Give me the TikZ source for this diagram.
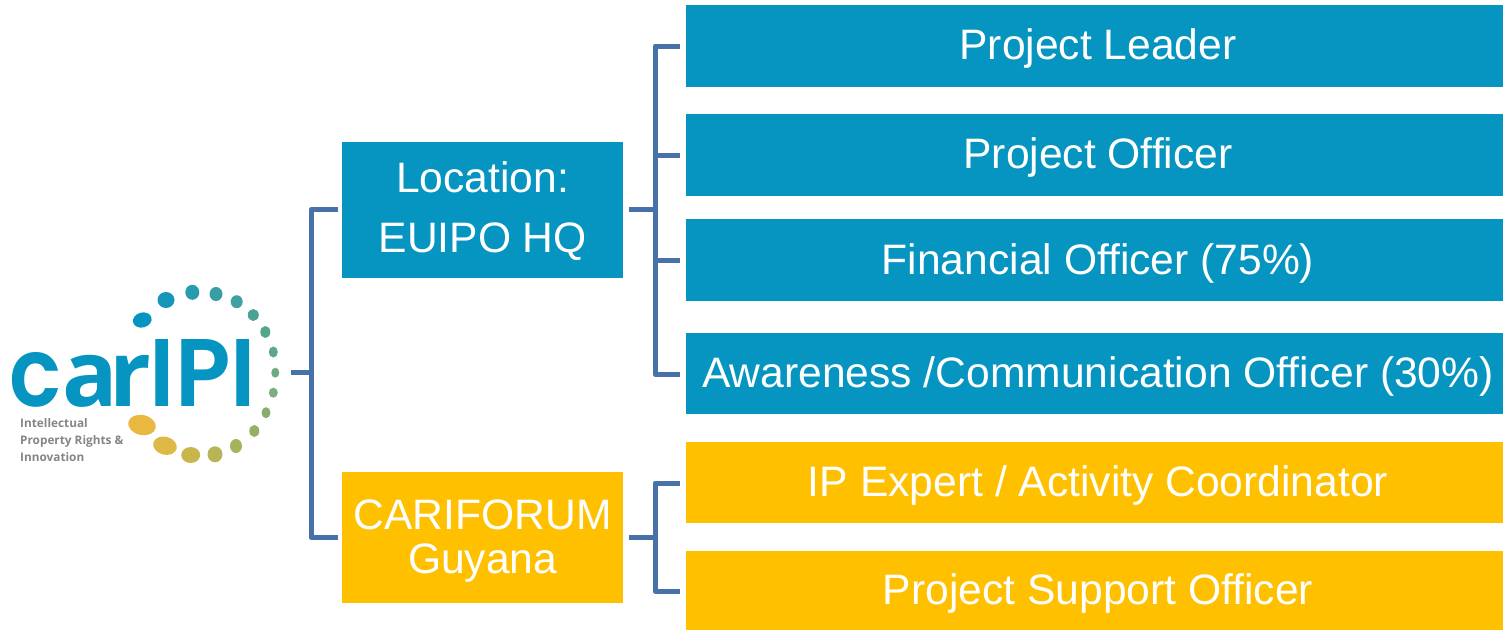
\documentclass[tikz,border=0pt]{standalone}
\usepackage{fontspec}
\setmainfont{Liberation Sans}
\newfontfamily\logofont{Poppins}[BoldFont={Poppins SemiBold}]
\newfontfamily\logosmallfont{Open Sans}
\definecolor{boxblue}{HTML}{0595C0}
\definecolor{boxgold}{HTML}{FFC000}
\definecolor{linkblue}{HTML}{4772A9}
\definecolor{logogray}{HTML}{858585}
\newcommand{\logodot}[6]{\definecolor{dotcol}{HTML}{#6}\fill[fill=dotcol,draw=none] (#1,#2) circle[x radius=#3,y radius=#4,rotate=#5];}
\tikzset{
  x=1pt,y=-1pt,
  rolebox/.style={rectangle,inner sep=0pt,outer sep=0pt,minimum width=817pt,minimum height=#1,text=white,anchor=center,
    font=\fontsize{42.6}{43}\selectfont,text height=31pt,text depth=4pt},
  sitebox/.style={rectangle,inner sep=0pt,outer sep=0pt,minimum width=281pt,minimum height=#1,text=white,align=center,anchor=center},
  link/.style={draw=linkblue,line width=5pt,line join=round,line cap=butt},
  logotext/.style={inner sep=0pt,anchor=base west,transform shape,font=\logofont\bfseries\fontsize{96}{96}\selectfont,text=boxblue},
  logoletter/.style={inner sep=0pt,anchor=base west,font=\logosmallfont\bfseries\fontsize{92}{92}\selectfont,text=boxblue},
  logosmall/.style={inner sep=0pt,anchor=base west,font=\logosmallfont\bfseries\fontsize{11.8}{12}\selectfont,text=logogray}
}
\begin{document}
\begin{tikzpicture}
\useasboundingbox (0,0) rectangle (1503,630);
% logo
\node[logotext,xscale=0.9] (logoc) at (9.5,406.5) {c};
\node[logoletter] (logoa) at (62,406.5) {a};
\node[logoletter] (logor) at (109.5,406.5) {r};
\node[logotext,xscale=0.95] (logob) at (149.5,406.5) {IPI};
\node[logosmall] (logot1) at (20,427) {Intellectual};
\node[logosmall] (logot2) at (20,444) {Property Rights \&};
\node[logosmall] (logot3) at (20,461) {Innovation};
\logodot{142.3}{320}{9.5}{7.5}{15}{0595C0}
\logodot{166}{300}{8.5}{8}{0}{1496B9}
\logodot{192.3}{292.3}{7}{7.5}{0}{289BAF}
\logodot{216}{294}{6.5}{7}{0}{379EA5}
\logodot{236.7}{301.7}{6}{6.5}{0}{41A0A0}
\logodot{253.3}{315}{5.5}{6}{0}{4BA396}
\logodot{265.3}{332}{5}{6}{0}{55A58C}
\logodot{273.3}{352}{4.5}{5.5}{0}{5FA887}
\logodot{275.3}{372.7}{4}{5}{0}{6EAA82}
\logodot{273.3}{392.7}{4.5}{5}{0}{7DAC7D}
\logodot{266}{412.7}{4.5}{5.5}{0}{87AC6E}
\logodot{254.3}{431}{5}{6}{0}{96AF64}
\logodot{236}{446}{6}{7}{0}{A5B45A}
\logodot{215}{454.3}{7.5}{8}{0}{B9B455}
\logodot{190.7}{455}{9.5}{8}{0}{C8B64B}
\logodot{165}{445.7}{12}{9}{-15}{DEB946}
\logodot{142}{425}{14}{10}{-12}{E8B840}
% site boxes
\node[sitebox=136pt,fill=boxblue,font=\fontsize{42.6}{60}\selectfont] (hq) at (482.75,209.5) {\rule{0pt}{35pt}Location:\\EUIPO HQ};
\node[sitebox=131pt,fill=boxgold,font=\fontsize{42.6}{44}\selectfont] (gy) at (482.75,537.5) {\rule{0pt}{37pt}CARIFORUM\\Guyana};
% role boxes
\node[rolebox=82pt,fill=boxblue] (r1) at (1094.5,46) {\hspace*{7pt}Project Leader};
\node[rolebox=82pt,fill=boxblue] (r2) at (1094.5,155) {\hspace*{7pt}Project Officer};
\node[rolebox=82pt,fill=boxblue,text depth=2.5pt] (r3) at (1094.5,260.25) {\hspace*{7pt}Financial Officer (75\%)};
\node[rolebox=81pt,fill=boxblue] (r4) at (1094.5,373.5) {\hspace*{7pt}Awareness /Communication Officer (30\%)};
\node[rolebox=81pt,fill=boxgold,text depth=2.5pt] (r5) at (1094.5,482.5) {\hspace*{7pt}IP Expert / Activity Coordinator};
\node[rolebox=79pt,fill=boxgold,text depth=2.5pt] (r6) at (1094.5,590.5) {\hspace*{7pt}Project Support Officer};
% connector junctions
\coordinate (logoout) at (291,372);
\coordinate (trunk) at (311,372);
\coordinate (hqin) at (338,209.5);
\coordinate (gyin) at (338,537.5);
\coordinate (hqout) at (629,209.5);
\coordinate (gyout) at (629,537.5);
\coordinate (hqbus) at (655,209.5);
\coordinate (gybus) at (655,537.5);
\coordinate (r1in) at (680,46);
\coordinate (r2in) at (680,155);
\coordinate (r3in) at (680,260);
\coordinate (r4in) at (680,374);
\coordinate (r5in) at (680,483);
\coordinate (r6in) at (680,591);
% connectors
\draw[link] (logoout) -- (trunk);
\draw[link] (hqin) -| (trunk) |- (gyin);
\draw[link] (hqout) -- (hqbus);
\draw[link] (r1in) -| (hqbus) |- (r4in);
\draw[link] (hqbus |- r2in) -- (r2in);
\draw[link] (hqbus |- r3in) -- (r3in);
\draw[link] (gyout) -- (gybus);
\draw[link] (r5in) -| (gybus) |- (r6in);
\end{tikzpicture}
\end{document}
